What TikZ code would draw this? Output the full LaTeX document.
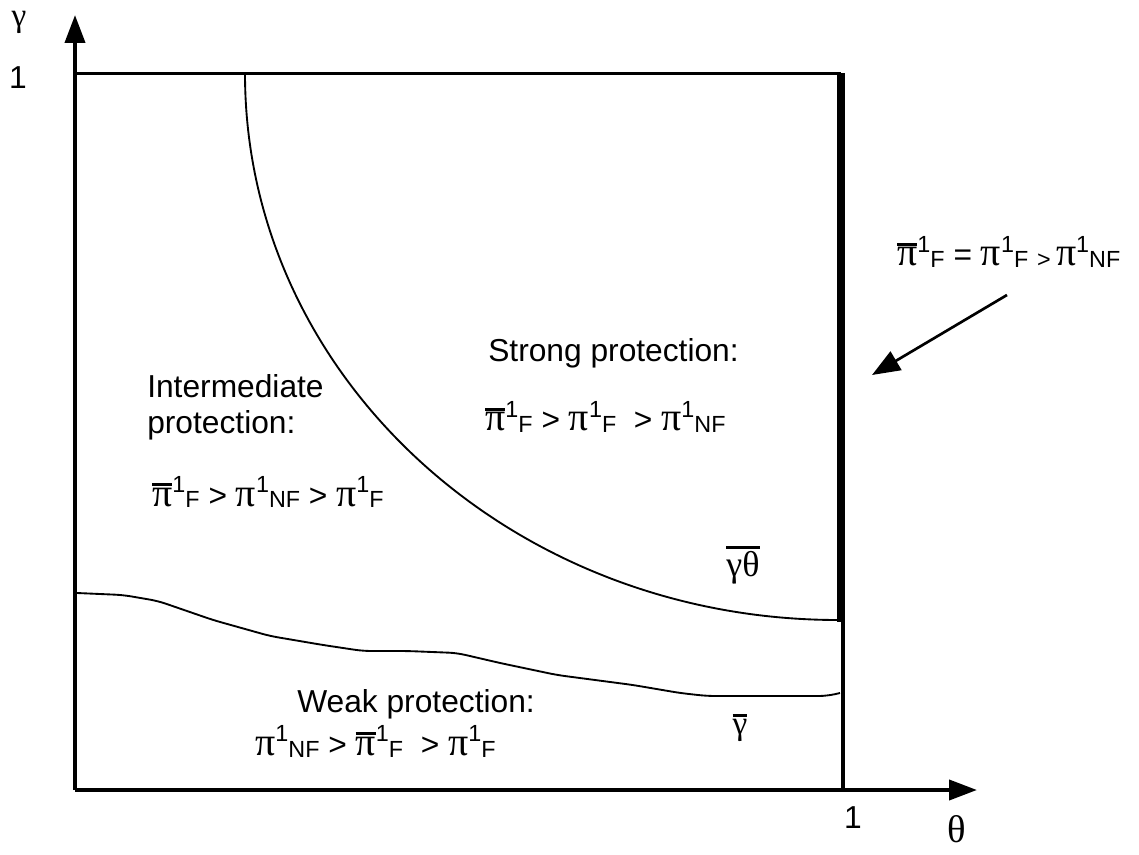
\documentclass[tikz,border=0pt]{standalone}
\usepackage{fontspec}
\setmainfont{Liberation Sans}
\newfontfamily\grk{Liberation Serif}
\usetikzlibrary{arrows.meta}

\newcommand{\subsz}{\fontsize{17.5}{17.5}\selectfont}
\newcommand{\pisz}{\fontsize{30}{30}\selectfont}
\newcommand{\barred}[1]{\leavevmode\setbox0\hbox{#1}\rlap{\raisebox{\dimexpr\ht0+1.5pt\relax}{\rule{\wd0}{2.2pt}}}\box0}
\newcommand{\pione}[1]{{\pisz\grk π}\raisebox{10pt}{\subsz 1}\raisebox{-1.5pt}{\subsz #1}}
\newcommand{\pibarone}[1]{\barred{\pisz\grk π}\raisebox{10pt}{\subsz 1}\raisebox{-1.5pt}{\subsz #1}}

\begin{document}
\begin{tikzpicture}[x=0.75pt, y=-0.75pt,
  axis/.style={line width=3pt, -{Triangle[length=21pt, width=15pt]}},
  frame/.style={line width=2.2pt},
  bound/.style={line width=1.4pt, line join=round},
  lbl/.style={font=\fontsize{23.8}{27}\selectfont, inner sep=0pt},
  greek/.style={font=\fontsize{27}{27}\selectfont\grk, inner sep=0pt}]
  \useasboundingbox (0,0) rectangle (1139,855);

  % axes
  \coordinate (O) at (75,790);
  \coordinate (ytop) at (75,15);
  \coordinate (xend) at (977,790);
  \draw[axis] (O) -- (ytop);
  \draw[axis] (O) -- (xend);
  \node[greek, font=\fontsize{25}{25}\selectfont\grk] (gamma) at (19,22) {γ};
  \node[lbl] (yone) at (18,78) {1};
  \node[lbl] (xone) at (853,818) {1};
  \node[greek, font=\fontsize{29}{29}\selectfont\grk] (theta) at (957,829) {θ};

  % unit square
  \coordinate (tl) at (75,73.5);
  \coordinate (tr) at (841,73.5);
  \coordinate (kink) at (841,622);
  \coordinate (kinkthin) at (842.5,620);
  \coordinate (br) at (842.5,790);
  \draw[frame] (tl) -- (tr);
  \draw[line width=6pt] (tr) -- (kink);
  \draw[line width=3pt] (kinkthin) -- (br);

  % region boundaries
  \draw[bound] (245,73.5) .. controls (245,375.6) and (510.5,620) .. (838,620);
  \draw[bound, rounded corners=6pt] (77,593) -- (123,595) -- (158,601) -- (213,620)
    -- (270,636) -- (323,645) -- (363,651) -- (407,651) -- (457,653) -- (500,663)
    -- (557,675) -- (633,685) -- (680,693) -- (707,696) -- (827,696) -- (840,693);

  % regions
  \node[lbl, anchor=north west, align=left] (inter) at (147,374) {Intermediate\\protection:};
  \node[lbl, anchor=base west] (interf) at (152,506) {\pibarone{F} > \pione{NF} > \pione{F}};
  \node[lbl, anchor=base west] (strong) at (488,362) {Strong protection:};
  \node[lbl, anchor=base west] (strongf) at (485,431) {\pibarone{F} > \pione{F}\ \ > \pione{NF}};
  \node[lbl, anchor=base west] (weak) at (297,712) {Weak protection:};
  \node[lbl, anchor=base west] (weakf) at (255,755) {\pione{NF} > \pibarone{F}\ \ > \pione{F}};
  \node[greek] (gtbar) at (743,565) {\barred{γθ}};
  \node[greek, font=\fontsize{25}{25}\selectfont\grk] (gbar) at (740,728) {\barred{γ}};

  % right edge
  \node[lbl, anchor=base west] (edge) at (897,266) {\pibarone{F} = \pione{F}\ \raisebox{-1.5pt}{\subsz >}\,\pione{NF}};
  \coordinate (arrstart) at (1007,295);
  \coordinate (arrtip) at (872,375);
  \draw[line width=2pt, -{Triangle[length=21pt, width=16pt]}] (arrstart) -- (arrtip);
\end{tikzpicture}
\end{document}
